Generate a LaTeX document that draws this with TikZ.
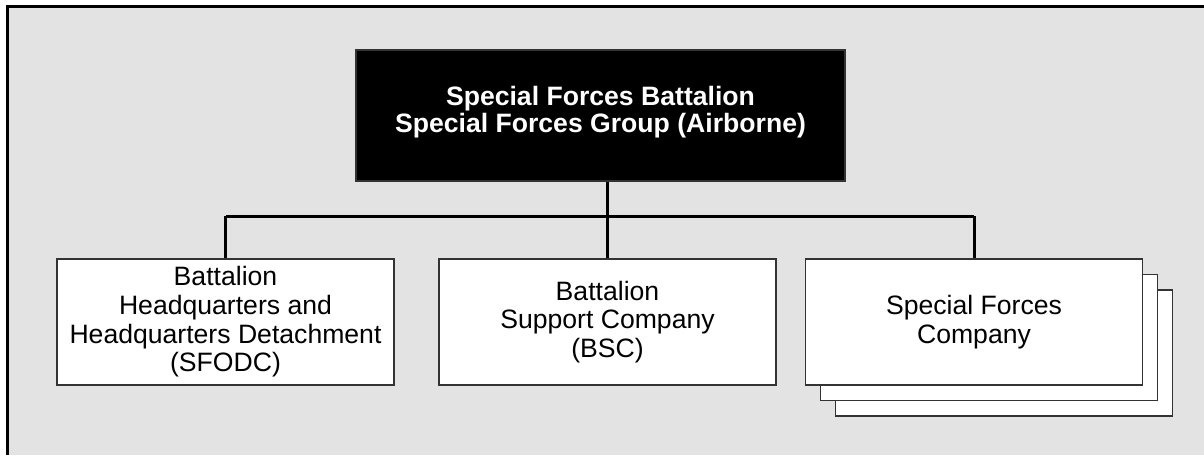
\documentclass[tikz,border=0pt]{standalone}
\usepackage{fontspec}
\setmainfont{Liberation Sans}
\usetikzlibrary{shadows}
\definecolor{bggray}{HTML}{E3E3E3}
\definecolor{edgegray}{HTML}{333333}
\tikzset{
  unitbox/.style={draw=edgegray,line width=1.5pt,fill=white,align=center,inner sep=0pt,
    minimum width=337pt,minimum height=126pt,font=\fontsize{26.6}{28.7}\selectfont},
  headbox/.style={unitbox,fill=black,text=white,minimum width=489pt,minimum height=131pt,
    text depth=12.5pt,font=\fontsize{26.6}{27.5}\selectfont\bfseries},
  link/.style={line width=3pt}
}
\begin{document}
\begin{tikzpicture}[x=1pt,y=-1pt]
\useasboundingbox (0,0) rectangle (1204,455);
\fill[bggray] (7.5,6) rectangle (1204,455);
\draw[line width=3pt] (7.5,455) |- (1204,6);
\node[headbox] (top) at (600.5,115.5) {Special Forces Battalion\\Special Forces Group (Airborne)};
\node[unitbox] (hq) at (225.5,322) {Battalion\\Headquarters and\\Headquarters Detachment\\(SFODC)};
\node[unitbox] (bsc) at (607.5,322) {Battalion\\Support Company\\(BSC)};
\node[unitbox,double copy shadow={shadow xshift=15pt,shadow yshift=-15.5pt}] (sfc) at (974,322) {Special Forces\\Company};
\coordinate (bus) at (607.5,216);
\draw[link] (bsc.north |- top.south) -- (bus);
\draw[link] (hq.north |- bus) -- (sfc.north |- bus);
\foreach \n in {hq,bsc,sfc} \draw[link] (\n.north |- bus) -- (\n.north);
\end{tikzpicture}
\end{document}
